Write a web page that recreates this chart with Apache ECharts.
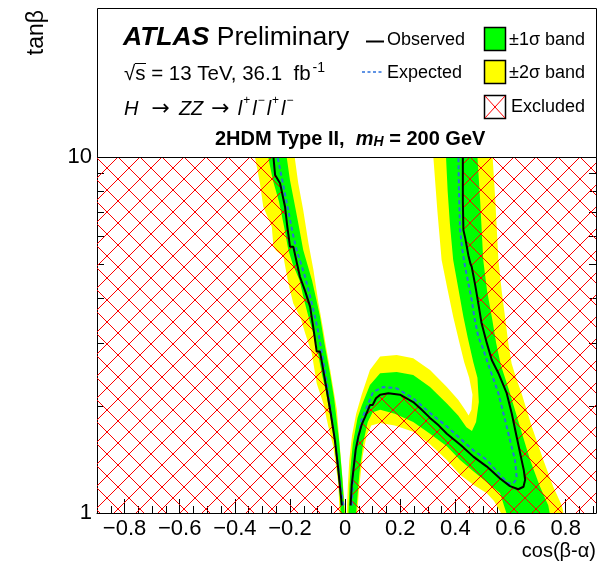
<!DOCTYPE html>
<html><head><meta charset="utf-8">
<script src="https://cdn.jsdelivr.net/npm/echarts@6/dist/echarts.min.js"></script>
<style>html,body{margin:0;padding:0;background:#fff}#c{width:613px;height:567px}</style>
</head><body><div id="c"></div>
<script>
// ---------------- data ----------------
const xMajorTicks = [-0.8,-0.6,-0.4,-0.2,0,0.2,0.4,0.6,0.8];
const xMinorTicks = [-0.9,-0.85,-0.8,-0.75,-0.7,-0.65,-0.6,-0.55,-0.5,-0.45,-0.4,-0.35,-0.3,-0.25,-0.2,-0.15,-0.1,-0.05,0,0.05,0.1,0.15,0.2,0.25,0.3,0.35,0.4,0.45,0.5,0.55,0.6,0.65,0.7,0.75,0.8,0.85,0.9];
const yMajorTicks = [1,10];
const yMinorTicks = [2,3,4,5,6,7,8,9];

// observed contour, left branch (bottom -> top)
const observedLeft = [[-0.012,1.05],[-0.014,1.09],[-0.025,1.33],[-0.037,1.60],[-0.052,1.9],[-0.067,2.22],[-0.091,2.84],[-0.103,2.84],[-0.115,3.3],[-0.127,3.80],[-0.145,4.2],[-0.164,4.61],[-0.188,5.60],[-0.200,5.60],[-0.210,6.4],[-0.218,7.25],[-0.236,8.44],[-0.254,8.9],[-0.260,10]];
// observed contour, right part (bottom-left -> bump -> turn -> top)
const observedRight = [[0.020,1.05],[0.024,1.2],[0.030,1.32],[0.038,1.5],[0.048,1.64],[0.060,1.77],[0.072,1.86],[0.090,2.01],[0.100,2.01],[0.112,2.10],[0.127,2.15],[0.157,2.17],[0.199,2.15],[0.247,2.05],[0.275,1.96],[0.308,1.85],[0.340,1.76],[0.369,1.67],[0.420,1.55],[0.465,1.44],[0.514,1.35],[0.562,1.25],[0.598,1.19],[0.628,1.166],[0.647,1.185],[0.653,1.24],[0.648,1.32],[0.640,1.41],[0.622,1.64],[0.604,1.91],[0.586,2.17],[0.556,2.47],[0.532,2.69],[0.514,3.00],[0.495,3.41],[0.477,4.14],[0.471,4.4],[0.459,4.92],[0.455,5.0],[0.447,5.3],[0.436,5.9],[0.429,6.24],[0.427,7.5],[0.427,10]];
// expected contour
const expectedLeft = [[-0.006,1.05],[-0.018,1.21],[-0.032,1.5],[-0.049,1.87],[-0.066,2.3],[-0.085,2.84],[-0.100,3.3],[-0.118,3.80],[-0.145,4.6],[-0.176,5.48],[-0.192,6.2],[-0.205,7.0],[-0.228,8.6],[-0.245,10]];
const expectedRight = [[0.024,1.05],[0.026,1.15],[0.030,1.32],[0.042,1.57],[0.060,1.83],[0.084,2.03],[0.102,2.19],[0.139,2.26],[0.187,2.24],[0.247,2.10],[0.308,1.91],[0.369,1.75],[0.417,1.62],[0.465,1.50],[0.514,1.41],[0.562,1.28],[0.592,1.21],[0.610,1.21],[0.620,1.24],[0.622,1.265],[0.616,1.41],[0.600,1.58],[0.586,1.75],[0.556,2.17],[0.536,2.40],[0.518,2.63],[0.500,2.9],[0.483,3.13],[0.470,3.5],[0.459,3.97],[0.445,4.5],[0.435,4.92],[0.425,5.5],[0.417,6.24],[0.413,8],[0.411,10]];
// +-1 sigma band edges
const green1LeftEdge = [[-0.016,1.0],[-0.022,1.2],[-0.040,1.6],[-0.058,1.95],[-0.070,2.2],[-0.085,2.47],[-0.105,3.0],[-0.133,3.56],[-0.150,4.0],[-0.165,4.5],[-0.190,5.0],[-0.206,5.48],[-0.222,6.4],[-0.240,7.5],[-0.262,8.6],[-0.279,10]];
const green1RightEdge = [[-0.212,10],[-0.200,8.6],[-0.185,7.5],[-0.168,6.4],[-0.152,5.48],[-0.137,5.0],[-0.120,4.5],[-0.105,4.0],[-0.091,3.56],[-0.075,3.0],[-0.055,2.47],[-0.040,2.1],[-0.022,1.6],[-0.010,1.25],[-0.002,1.0]];
const green1Inner = [[0.012,1.0],[0.016,1.2],[0.020,1.35],[0.028,1.57],[0.045,1.85],[0.060,2.0],[0.090,2.29],[0.127,2.47],[0.187,2.49],[0.247,2.44],[0.308,2.26],[0.369,2.03],[0.410,1.88],[0.440,1.74],[0.460,1.70],[0.475,1.80],[0.485,2.05],[0.480,2.40],[0.465,2.65],[0.445,3.1],[0.429,3.56],[0.410,4.3],[0.392,5.14],[0.380,6.5],[0.372,8],[0.366,10]];
const green1Outer = [[0.480,10],[0.490,7.5],[0.501,5.14],[0.515,4.2],[0.532,3.56],[0.548,3.0],[0.565,2.6],[0.580,2.4],[0.598,2.17],[0.634,1.75],[0.671,1.41],[0.707,1.185],[0.737,1.05],[0.742,1.0],[0.585,1.0],[0.562,1.136],[0.514,1.22],[0.465,1.31],[0.417,1.41],[0.369,1.54],[0.308,1.67],[0.247,1.80],[0.180,1.90],[0.127,1.95],[0.100,1.92],[0.082,1.80],[0.066,1.58],[0.052,1.30],[0.040,1.0]];
// +-2 sigma band edges
const yellow2LeftEdge = [[-0.020,1.0],[-0.025,1.21],[-0.043,1.54],[-0.061,1.75],[-0.079,2.03],[-0.103,2.31],[-0.121,2.81],[-0.145,3.2],[-0.160,3.5],[-0.188,3.88],[-0.206,4.42],[-0.224,5.25],[-0.250,5.45],[-0.260,5.60],[-0.266,6.37],[-0.297,7.25],[-0.309,8.44],[-0.327,10]];
const yellow2RightEdge = [[-0.183,10],[-0.170,8.44],[-0.152,7.10],[-0.133,5.72],[-0.115,4.82],[-0.097,3.90],[-0.080,3.3],[-0.068,2.9],[-0.055,2.55],[-0.030,1.95],[-0.018,1.50],[-0.004,1.11],[0.000,1.0]];
const yellow2Inner = [[0.006,1.0],[0.010,1.2],[0.015,1.4],[0.025,1.65],[0.040,1.9],[0.060,2.15],[0.090,2.52],[0.127,2.75],[0.187,2.78],[0.247,2.72],[0.308,2.52],[0.369,2.26],[0.410,2.08],[0.435,1.95],[0.448,1.88],[0.458,1.95],[0.462,2.15],[0.450,2.4],[0.432,2.65],[0.415,3.0],[0.392,3.56],[0.370,4.3],[0.350,5.14],[0.335,7],[0.320,10]];
const yellow2Outer = [[0.535,10],[0.545,7.5],[0.556,5.14],[0.568,4.2],[0.580,3.56],[0.592,3.0],[0.604,2.63],[0.620,2.4],[0.640,2.17],[0.677,1.75],[0.719,1.41],[0.755,1.185],[0.786,1.05],[0.792,1.0],[0.565,1.0],[0.540,1.08],[0.514,1.136],[0.465,1.2],[0.417,1.28],[0.369,1.41],[0.308,1.56],[0.247,1.69],[0.180,1.76],[0.127,1.79],[0.095,1.76],[0.078,1.65],[0.064,1.45],[0.052,1.2],[0.044,1.0]];

// ---------------- chart ----------------
const X_MIN = -0.9, X_MAX = 0.91, Y_MIN = 1, Y_MAX = 10;
const FONT = '"Liberation Sans", Arial, Helvetica, sans-serif';
const GREEN = '#00ff00', YELLOW = '#ffff00', RED = '#ff0000', BLUE = '#2a6fdb';

function hatch() {
  const s = 22;
  const c = document.createElement('canvas'); c.width = s; c.height = s;
  const g = c.getContext('2d');
  g.fillStyle = RED;
  for (let i = 0; i < s; i++) { g.fillRect(i, i, 1, 1); g.fillRect(s - 1 - i, i, 1, 1); }
  return { image: c, repeat: 'repeat', x: 8, y: 3 };
}
const HATCH = hatch();

function poly(name, pts, fill, z) {
  return {
    type: 'custom', name, z, silent: true, xAxisIndex: 0, yAxisIndex: 0,
    data: [[0, 1]],
    renderItem: (params, api) => ({
      type: 'polygon',
      shape: { points: pts.map(p => api.coord(p)) },
      style: { fill: fill, stroke: null }
    })
  };
}
function curve(name, pts, color, width, dash, z) {
  return { type: 'line', name, data: pts, z, silent: true, showSymbol: false, symbol: 'none',
    xAxisIndex: 0, yAxisIndex: 0, animation: false,
    lineStyle: { color, width, type: dash || 'solid' } };
}

const leftExcluded = [[X_MIN, Y_MIN], [X_MIN, Y_MAX]].concat(observedLeft.slice().reverse(), [[observedLeft[0][0], Y_MIN]]);
const rightExcluded = [[observedRight[0][0], Y_MIN]].concat(observedRight, [[X_MAX, Y_MAX], [X_MAX, Y_MIN]]);

const tickStyle = { color: '#000', width: 1 };
function xAxisDef(major) {
  return {
    type: 'value', min: X_MIN, max: X_MAX, position: 'bottom',
    axisLine: { show: major, onZero: false, lineStyle: { color: '#000', width: 1 } },
    axisTick: { show: true, inside: true, length: major ? 14 : 7, customValues: major ? xMajorTicks : xMinorTicks, lineStyle: tickStyle },
    axisLabel: major ? { show: true, customValues: xMajorTicks, fontSize: 22, fontFamily: FONT, color: '#000', margin: 5,
      formatter: v => (v < 0 ? '\u2212' + String(-v) : String(v)) } : { show: false },
    splitLine: { show: false }
  };
}
function yAxisDef(pos, major, labels) {
  return {
    type: 'log', logBase: 10, min: Y_MIN, max: Y_MAX, position: pos,
    axisLine: { show: major, onZero: false, lineStyle: { color: '#000', width: 1 } },
    axisTick: { show: true, inside: true, length: major ? 14 : 7, customValues: major ? yMajorTicks : yMinorTicks, lineStyle: tickStyle },
    axisLabel: labels ? { show: true, customValues: yMajorTicks, fontSize: 22, fontFamily: FONT, color: '#000', margin: 5 } : { show: false },
    splitLine: { show: false }, minorTick: { show: false }
  };
}

const T = (text, x, y, size, extra) => ({ type: 'text', x, y, z: 110, silent: true,
  style: Object.assign({ text, fontSize: size, fontFamily: FONT, fill: '#000', verticalAlign: 'middle', align: 'left' }, extra || {}) });

const ARROW = { fontFamily: '"DejaVu Sans", sans-serif', fontSize: 22, lineHeight: 28 };
const SUP = { fontSize: 12, lineHeight: 12, verticalAlign: 'top', fontFamily: FONT };
const option = {
  animation: false,
  backgroundColor: '#fff',
  grid: { left: 97, right: 17, top: 157, bottom: 54, show: false },
  xAxis: [xAxisDef(true), xAxisDef(false)],
  yAxis: [yAxisDef('left', true, true), yAxisDef('left', false, false), yAxisDef('right', true, false), yAxisDef('right', false, false)],
  series: [
    poly('2s left', yellow2LeftEdge.concat(yellow2RightEdge), YELLOW, 1),
    poly('2s right', yellow2Inner.concat(yellow2Outer), YELLOW, 1),
    poly('1s left', green1LeftEdge.concat(green1RightEdge), GREEN, 2),
    poly('1s right', green1Inner.concat(green1Outer), GREEN, 2),
    poly('excl left', leftExcluded, HATCH, 3),
    poly('excl right', rightExcluded, HATCH, 3),
    curve('Expected L', expectedLeft, BLUE, 2, [4, 3], 4),
    curve('Expected R', expectedRight, BLUE, 2, [4, 3], 4),
    curve('Observed L', observedLeft, '#000', 2, null, 5),
    curve('Observed R', observedRight, '#000', 2, null, 5)
  ],
  graphic: [
    { type: 'rect', z: 100, silent: true, shape: { x: 97.5, y: 8.5, width: 499, height: 149 }, style: { fill: '#fff', stroke: '#000', lineWidth: 1 } },
    T('{b|ATLAS} Preliminary', 123, 38, 26.5, { rich: { b: { fontWeight: 'bold', fontStyle: 'italic', fontSize: 26.5, fontFamily: FONT } } }),
    T('{n|\u221As = 13 TeV, 36.1  fb}{sup|-1}', 124, 74.5, 20.5, { rich: {
        n: { fontSize: 20.5, lineHeight: 26, fontFamily: FONT },
        sup: Object.assign({}, SUP, { fontSize: 14, lineHeight: 14, padding: [0, 0, 0, 2] }) } }),
    { type: 'line', z: 110, silent: true, shape: { x1: 135, y1: 63.5, x2: 146, y2: 63.5 }, style: { stroke: '#000', lineWidth: 1 } },
    T('{i|H}{a|\u2192}{i|ZZ}{a2|\u2192}{i|l}{sup|+}{i|l}{sup|\u2212}{i|l}{sup|+}{i|l}{sup|\u2212}', 124, 109, 20,
      { rich: {
        i: { fontStyle: 'italic', fontSize: 20, lineHeight: 28, fontFamily: FONT },
        a: Object.assign({ padding: [0, 9, 0, 13] }, ARROW),
        a2: Object.assign({ padding: [0, 8, 0, 8] }, ARROW),
        sup: Object.assign({ padding: [0, 2, 0, 1] }, SUP) } }),
    T('2HDM Type II,  {m|m}{sub|H} = 200 GeV', 215, 139.5, 20,
      { fontWeight: 'bold', rich: { m: { fontStyle: 'italic', fontWeight: 'bold', fontSize: 20, fontFamily: FONT }, sub: { fontStyle: 'italic', fontWeight: 'bold', fontSize: 14, verticalAlign: 'bottom', fontFamily: FONT } } }),
    // legend
    { type: 'line', z: 110, silent: true, shape: { x1: 366, y1: 41.5, x2: 384, y2: 41.5 }, style: { stroke: '#000', lineWidth: 2 } },
    T('Observed', 387, 40.5, 18),
    { type: 'line', z: 110, silent: true, shape: { x1: 362, y1: 72, x2: 384, y2: 72 }, style: { stroke: BLUE, lineWidth: 1.5, lineDash: [3, 2.5] } },
    T('Expected', 387, 73, 18),
    { type: 'rect', z: 110, silent: true, shape: { x: 484.5, y: 27.5, width: 21, height: 23 }, style: { fill: GREEN, stroke: '#000', lineWidth: 1.5 } },
    T('\u00B11\u03C3 band', 509, 40.5, 18),
    { type: 'rect', z: 110, silent: true, shape: { x: 484.5, y: 60.5, width: 21, height: 23 }, style: { fill: YELLOW, stroke: '#000', lineWidth: 1.5 } },
    T('\u00B12\u03C3 band', 509, 73, 18),
    { type: 'rect', z: 110, silent: true, shape: { x: 484.5, y: 95.5, width: 21, height: 23 }, style: { fill: '#fff', stroke: '#000', lineWidth: 1.5 } },
    { type: 'line', z: 111, silent: true, shape: { x1: 485, y1: 96, x2: 505, y2: 118 }, style: { stroke: RED, lineWidth: 1 } },
    { type: 'line', z: 111, silent: true, shape: { x1: 505, y1: 96, x2: 485, y2: 118 }, style: { stroke: RED, lineWidth: 1 } },
    T('Excluded', 511, 107, 18),
    // axis titles
    T('cos(\u03B2-\u03B1)', 596, 551, 20, { align: 'right' }),
    { type: 'text', x: 37, y: 10, rotation: Math.PI / 2, z: 110, silent: true,
      style: { text: 'tan\u03B2', fontSize: 23, fontFamily: FONT, fill: '#000', align: 'right', verticalAlign: 'middle' } }
  ]
};
const chart = echarts.init(document.getElementById('c'), null, { renderer: 'canvas' });
chart.setOption(option);
</script>
</body></html>
